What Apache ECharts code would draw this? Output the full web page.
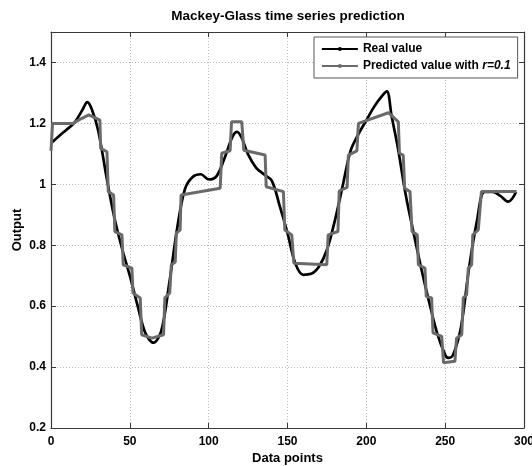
<!DOCTYPE html>
<html><head><meta charset="utf-8">
<script src="https://cdn.jsdelivr.net/npm/echarts@6/dist/echarts.min.js"></script>
<style>html,body{margin:0;padding:0;background:#fff}#c{width:532px;height:466px}</style>
</head><body><div id="c"></div>
<script>
// Real value samples (data point index, value)
const realT = [0,5,10,15,20,23,26,30,35,40,45,50,55,60,65,70,75,80,85,90,95,100,105,110,115,118,121,125,130,135,140,145,150,155,160,165,170,175,180,185,190,195,200,205,210,213,216,220,225,230,235,240,245,250,252,255,260,265,270,275,280,285,290,295];
const realV = [1.135,1.158,1.18,1.203,1.245,1.27,1.245,1.175,1.03,0.895,0.79,0.70,0.60,0.51,0.48,0.52,0.675,0.855,0.985,1.025,1.033,1.016,1.027,1.085,1.155,1.172,1.152,1.098,1.055,1.033,1.012,0.93,0.84,0.74,0.703,0.706,0.73,0.785,0.88,0.995,1.11,1.165,1.21,1.255,1.29,1.305,1.225,1.12,0.965,0.84,0.72,0.61,0.51,0.44,0.43,0.44,0.53,0.72,0.875,0.975,0.975,0.962,0.943,0.975];
// Predicted value samples (data point index, value)
const predT = [0,1,14,19,24,31,31.5,35.5,36.3,39.7,40.5,45,45.8,51.3,52,56.6,57.5,64,71.4,72.2,75.3,76.3,78.8,79.5,81.9,82.5,107.3,108.3,113.6,114.5,121,122.3,135.8,136.5,147.4,148.3,152.7,154,174.9,175.8,182,182.8,187.8,188.6,194,195,214,220.3,221,223.4,224.3,227.7,229,232.3,233,237.2,238,241.4,242.3,247.8,249,256.2,257.2,260.5,261.5,263.6,264.7,266.8,267.5,271,273,295.3];
const predV = [1.11,1.2,1.2,1.215,1.228,1.211,1.118,1.107,0.976,0.965,0.845,0.834,0.736,0.725,0.643,0.627,0.506,0.495,0.506,0.627,0.643,0.736,0.745,0.84,0.85,0.965,0.987,1.102,1.11,1.205,1.205,1.112,1.096,0.992,0.976,0.85,0.834,0.741,0.736,0.834,0.845,0.978,0.99,1.096,1.11,1.2,1.235,1.205,1.102,1.096,0.987,0.976,0.845,0.834,0.736,0.725,0.632,0.627,0.512,0.501,0.414,0.419,0.495,0.506,0.627,0.637,0.725,0.736,0.834,0.85,0.976,0.976];

const titleText = 'Mackey-Glass time series prediction';
const xName = 'Data points';
const yName = 'Output';
const realName = 'Real value';
const predName = 'Predicted value with r=0.1';

const FF = "'Liberation Sans', Arial, Helvetica, sans-serif";
const frame = '#3a3a3a';
const chart = echarts.init(document.getElementById('c'), null, {renderer: 'canvas'});

const gridLine = {show: true, lineStyle: {color: '#b8b8b8', type: [1, 2], width: 1}};
const baseLabel = {color: '#000', fontWeight: 'bold', fontSize: 12, fontFamily: FF};

chart.setOption({
  animation: false,
  backgroundColor: '#fff',
  title: {
    text: titleText, left: 283, top: 4, textAlign: 'center',
    textStyle: {fontSize: 13.5, fontWeight: 'bold', fontFamily: FF, color: '#000'}
  },
  legend: {
    orient: 'vertical', left: 314, top: 37,
    padding: [5, 7, 5, 7], itemGap: 3, itemWidth: 36, itemHeight: 5,
    backgroundColor: '#fff', borderColor: '#555', borderWidth: 1,
    lineStyle: {width: 1.8},
    data: [realName, predName],
    formatter: function (name) {
      if (name === predName) return '{b|Predicted value with }{i|r=0.1}';
      return '{b|' + name + '}';
    },
    textStyle: {
      color: '#000', fontFamily: FF, fontSize: 12, fontWeight: 'bold', lineHeight: 14,
      rich: {
        b: {fontWeight: 'bold', fontSize: 12, fontFamily: FF, color: '#000', lineHeight: 14},
        i: {fontWeight: 'bold', fontStyle: 'italic', fontSize: 12, fontFamily: FF, color: '#000', lineHeight: 14}
      }
    }
  },
  grid: {left: 51, right: 8, top: 32, bottom: 38, containLabel: false, outerBoundsMode: 'none'},
  xAxis: [{
    type: 'value', min: 0, max: 300, interval: 50,
    name: xName, nameLocation: 'middle', nameGap: 24, nameMoveOverlap: false,
    nameTextStyle: {fontSize: 13, fontWeight: 'bold', fontFamily: FF, color: '#000'},
    axisLine: {show: true, lineStyle: {color: frame, width: 1.2}},
    axisTick: {show: true, inside: true, length: 5, lineStyle: {color: frame}},
    axisLabel: Object.assign({margin: 8}, baseLabel),
    splitLine: gridLine
  }, {
    type: 'value', min: 0, max: 300, interval: 50, position: 'top',
    axisLine: {show: true, onZero: false, lineStyle: {color: frame, width: 1.2}},
    axisTick: {show: true, inside: true, length: 5, lineStyle: {color: frame}},
    axisLabel: {show: false}, splitLine: {show: false}
  }],
  yAxis: [{
    type: 'value', min: 0.2, max: 1.5, interval: 0.2,
    name: yName, nameLocation: 'middle', nameGap: 27, nameRotate: 90, nameMoveOverlap: false,
    nameTextStyle: {fontSize: 13, fontWeight: 'bold', fontFamily: FF, color: '#000'},
    axisLine: {show: true, onZero: false, lineStyle: {color: frame, width: 1.2}},
    axisTick: {show: true, inside: true, length: 5, lineStyle: {color: frame}},
    axisLabel: Object.assign({margin: 5, showMaxLabel: false}, baseLabel),
    splitLine: gridLine
  }, {
    type: 'value', min: 0.2, max: 1.5, interval: 0.2, position: 'right',
    axisLine: {show: true, onZero: false, lineStyle: {color: frame, width: 1.2}},
    axisTick: {show: true, inside: true, length: 5, lineStyle: {color: frame}},
    axisLabel: {show: false}, splitLine: {show: false}
  }],
  series: [{
    name: realName, type: 'line', xAxisIndex: 0, yAxisIndex: 0,
    data: realT.map((t, i) => [t, realV[i]]),
    smooth: 0.35, showSymbol: false, symbol: 'circle', symbolSize: 4,
    lineStyle: {color: '#000', width: 2.7}, itemStyle: {color: '#000'}, z: 2
  }, {
    name: predName, type: 'line', xAxisIndex: 0, yAxisIndex: 0,
    data: predT.map((t, i) => [t, predV[i]]),
    smooth: false, showSymbol: false, symbol: 'circle', symbolSize: 4,
    lineStyle: {color: '#6a6a6a', width: 3}, itemStyle: {color: '#6a6a6a'}, z: 3
  }]
});
</script></body></html>
